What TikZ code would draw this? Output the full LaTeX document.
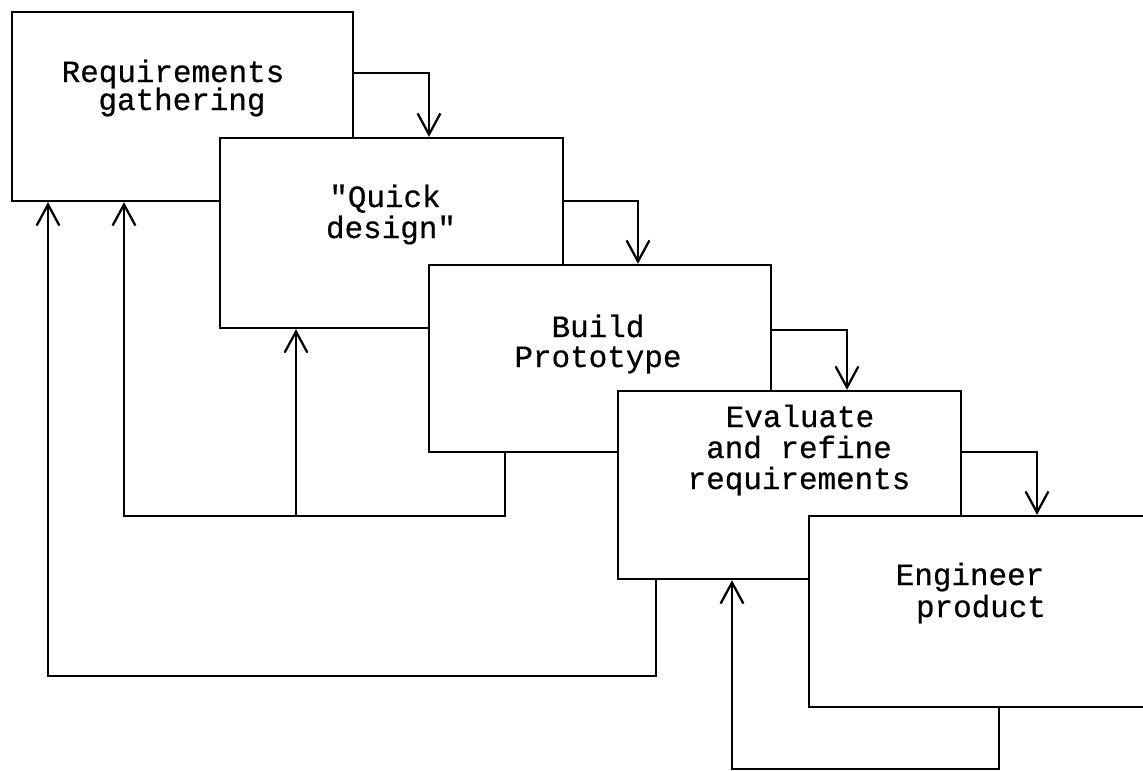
\documentclass[tikz,border=0pt]{standalone}
\usepackage{fontspec}
\newfontfamily\typew{Liberation Mono}
\usetikzlibrary{fit,arrows.meta}
\tikzset{
  box/.style={draw, fill=white, inner sep=0pt, line width=1.3pt},
  arr/.style={line width=1.3pt, -{Straight Barb[length=12pt,width=13pt,line width=1.3pt]}},
  txt/.style={inner sep=0pt, anchor=base, font=\typew\addfontfeatures{FakeBold=0.6}\fontsize{17.6}{18}\selectfont}
}
\begin{document}
\begin{tikzpicture}[x=0.02cm,y=-0.02cm]
\useasboundingbox (0,0) rectangle (1143,771);
% boxes
\node[box, fit={(12,12) (353,201)}] (b1) {};
\node[box, fit={(220,138) (563,328)}] (b2) {};
\node[box, fit={(429,265) (771,452)}] (b3) {};
\node[box, fit={(618,391) (961,579)}] (b4) {};
\node[box, fit={(809,516) (1152,707)}] (b5) {};
% texts
\node[txt] (t1a) at (173,82) {Requirements};
\node[txt] (t1b) at (182,110) {gathering};
\node[txt] (t2a) at (385,207) {"Quick};
\node[txt] (t2b) at (391,238) {design"};
\node[txt] (t3a) at (598,337) {Build};
\node[txt] (t3b) at (598,367) {Prototype};
\node[txt] (t4a) at (800,427) {Evaluate};
\node[txt] (t4b) at (799,458) {and refine};
\node[txt] (t4c) at (799,489) {requirements};
\node[txt] (t5a) at (970,585) {Engineer};
\node[txt] (t5b) at (981,617) {product};
% forward arrows
\coordinate (k12) at (429,73);
\coordinate (k23) at (638,201);
\coordinate (k34) at (847,330);
\coordinate (k45) at (1037,452);
\draw[arr] (b1.east |- k12) -| (b2.north -| k12);
\draw[arr] (b2.east |- k23) -| (b3.north -| k23);
\draw[arr] (b3.east |- k34) -| (b4.north -| k34);
\draw[arr] (b4.east |- k45) -| (b5.north -| k45);
% feedback loops
\coordinate (k31) at (505,516);
\coordinate (k31b) at (124,516);
\coordinate (j32) at (296,516);
\draw[arr] (b3.south -| k31) |- (k31b) -- (b1.south -| k31b);
\draw[arr] (j32) -- (b2.south -| j32);
\coordinate (k41) at (656,676);
\coordinate (k41b) at (48,676);
\draw[arr] (b4.south -| k41) |- (k41b) -- (b1.south -| k41b);
\coordinate (k54) at (999,769);
\coordinate (k54b) at (732,769);
\draw[arr] (b5.south -| k54) |- (k54b) -- (b4.south -| k54b);
\end{tikzpicture}
\end{document}
